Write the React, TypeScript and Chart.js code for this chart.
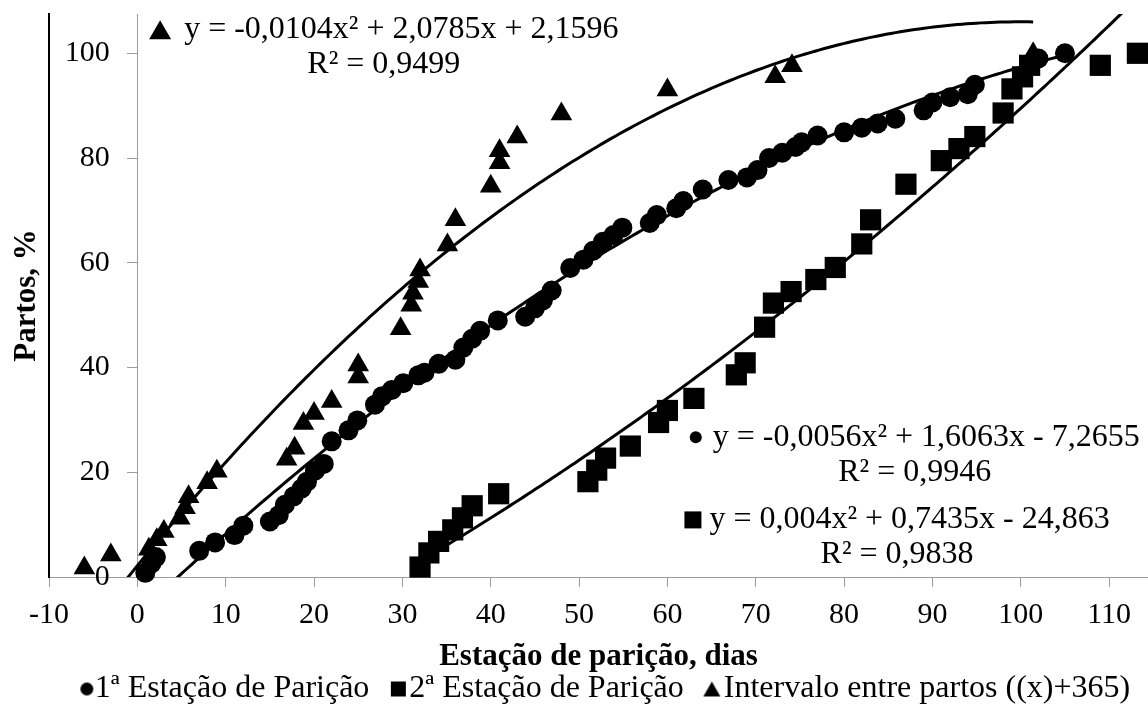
import React, { useEffect, useRef } from "react";
import { Chart, registerables } from "chart.js";

Chart.register(...registerables);

const FONT = "'Liberation Serif', 'Times New Roman', serif";
const GRAY = "#9d9d9d";

// 1ª Estação de Parição (circles)
const circleX = [0.9, 1.6, 2.1, 7, 8.8, 11, 12, 15, 16, 16.7, 17.7, 18.6, 19.2, 20.1, 21.1, 22, 23.9, 24.9, 26.9, 27.7, 28.8, 30.1, 31.8, 32.5, 34.1, 36, 36.9, 37.9, 38.8, 40.8, 43.9, 45, 45.9, 46.9, 49, 50.5, 51.6, 52.7, 53.9, 54.9, 58, 58.8, 61, 61.8, 64, 66.9, 69, 70.2, 71.5, 73, 74.5, 75.2, 77, 80, 82, 83.8, 85.8, 89, 90, 92, 94, 94.8, 102, 105];
const circleY = [0.8, 2.6, 3.8, 5, 6.6, 8, 9.8, 10.6, 11.8, 13.8, 15.4, 16.9, 18.2, 20.3, 21.6, 25.9, 28, 29.9, 32.9, 34.5, 35.7, 37, 38.5, 39, 40.7, 41.5, 43.8, 45.5, 47, 49, 49.7, 51.3, 52.8, 54.7, 59, 60.6, 62.3, 64, 65.3, 66.7, 67.6, 69.1, 70.4, 71.8, 74, 75.8, 76.3, 77.7, 80, 81, 82.1, 83, 84.3, 84.9, 85.8, 86.6, 87.5, 89.1, 90.6, 91.6, 92.2, 94, 99, 100];

// 2ª Estação de Parição (squares)
const squareX = [32, 33, 34.1, 35.7, 36.8, 37.9, 40.9, 51, 52, 53, 55.8, 59, 60, 63, 67.8, 68.8, 71, 72, 74, 76.8, 79, 82, 83, 87, 91, 93, 94.8, 98, 99, 100.2, 101, 109, 113.2];
const squareY = [1.9, 4.6, 6.8, 9, 11.3, 13.6, 15.9, 18.2, 20.4, 22.7, 25, 29.5, 31.8, 34.1, 38.6, 40.9, 47.7, 52.3, 54.5, 56.8, 59.1, 63.6, 68.2, 75, 79.5, 81.8, 84.1, 88.6, 93.2, 95.5, 97.7, 97.7, 100];

// Intervalo entre partos ((x)+365) (triangles)
const triangleX = [-6, -3, 1.3, 2.2, 3, 4.8, 5.4, 5.8, 7.9, 9, 16.9, 17.8, 18.8, 20, 22, 25, 25, 29.8, 31, 31.2, 31.8, 32, 35.1, 36, 40, 41, 41, 43, 48, 60, 72.2, 74.1, 101.4];
const triangleY = [1.7, 4.2, 5.3, 7.1, 8.7, 11.2, 13.2, 15.3, 18, 20.2, 22.5, 24.6, 29.3, 31.2, 33.5, 38.2, 40.5, 47.4, 51.9, 54.2, 56.4, 58.6, 63.4, 68.2, 74.6, 79.1, 81.4, 84, 88.4, 93, 95.5, 97.6, 99.9];

// Polynomial trend coefficients [a, b, c] for y = a x^2 + b x + c (from the chart's equations)
const circleTrend = [-0.0056, 1.6063, -7.2655];
const squareTrend = [0.004, 0.7435, -24.863];
const triangleTrend = [-0.0104, 2.0785, 2.1596];

const seriesLabels = ["1ª Estação de Parição", "2ª Estação de Parição", "Intervalo entre partos ((x)+365)"];
const equationTexts = ["y = -0,0056x² + 1,6063x - 7,2655", "y = 0,004x² + 0,7435x - 24,863", "y = -0,0104x² + 2,0785x + 2,1596"];
const r2Texts = ["R² = 0,9946", "R² = 0,9838", "R² = 0,9499"];

const xTicks = [-10, 0, 10, 20, 30, 40, 50, 60, 70, 80, 90, 100, 110];
const yTicks = [0, 20, 40, 60, 80, 100];

const xTitle = "Estação de parição, dias";
const yTitle = "Partos, %";

function toPoints(xs: number[], ys: number[]) {
  return xs.map((x, i) => ({ x, y: ys[i] }));
}

function trendPoints(coef: number[], xs: number[]) {
  const x0 = Math.min(...xs);
  const x1 = Math.max(...xs);
  const pts: { x: number; y: number }[] = [];
  const n = 200;
  for (let i = 0; i <= n; i++) {
    const x = x0 + ((x1 - x0) * i) / n;
    pts.push({ x, y: coef[0] * x * x + coef[1] * x + coef[2] });
  }
  return pts;
}

function drawShape(ctx: CanvasRenderingContext2D, shape: string, cx: number, cy: number, w: number, h: number) {
  ctx.beginPath();
  if (shape === "circle") {
    ctx.arc(cx, cy, w / 2, 0, Math.PI * 2);
  } else if (shape === "rect") {
    ctx.rect(cx - w / 2, cy - h / 2, w, h);
  } else {
    ctx.moveTo(cx, cy - h / 2);
    ctx.lineTo(cx + w / 2, cy + h / 2);
    ctx.lineTo(cx - w / 2, cy + h / 2);
    ctx.closePath();
  }
  ctx.fill();
}

function makeMarker(shape: string, w: number, h: number, offset: number): HTMLCanvasElement {
  const c = document.createElement("canvas");
  const W = Math.ceil(2 * offset + w + 2);
  const H = Math.ceil(h + 2);
  c.width = W;
  c.height = H;
  const ctx = c.getContext("2d")!;
  ctx.fillStyle = "#000";
  drawShape(ctx, shape, W / 2 + offset, H / 2, w, h);
  return c;
}

// label layout (data-unit anchors), separate from data
const labelLayout = [
  { shape: "circle", w: 12, h: 12, gap: 11, cx: 88.0, y1: 26.7, y2: 19.9 },
  { shape: "rect", w: 17, h: 17, gap: 8, cx: 86.0, y1: 10.9, y2: 4.2 },
  { shape: "triangle", w: 22, h: 19, gap: 13, cx: 27.9, y1: 104.5, y2: 97.8 },
];

const equationPlugin = {
  id: "equationLabels",
  afterDatasetsDraw(chart: any) {
    const { ctx, scales } = chart;
    const xs = scales.x;
    const ys = scales.y;
    ctx.save();
    ctx.fillStyle = "#000";
    ctx.font = `32px ${FONT}`;
    ctx.textBaseline = "middle";
    labelLayout.forEach((L, i) => {
      const cx = xs.getPixelForValue(L.cx);
      const cy1 = ys.getPixelForValue(L.y1);
      const cy2 = ys.getPixelForValue(L.y2);
      const tw = ctx.measureText(equationTexts[i]).width;
      const total = L.w + L.gap + tw;
      const left = cx - total / 2;
      drawShape(ctx, L.shape, left + L.w / 2, cy1, L.w, L.h);
      ctx.textAlign = "left";
      ctx.fillText(equationTexts[i], left + L.w + L.gap, cy1);
      ctx.textAlign = "center";
      ctx.fillText(r2Texts[i], cx, cy2);
    });
    ctx.restore();
  },
};

export default function App() {
  const ref = useRef<HTMLCanvasElement>(null);

  useEffect(() => {
    const canvas = ref.current;
    if (!canvas) return;
    Chart.defaults.font.family = FONT;
    const legendMarkers = [
      makeMarker("circle", 13, 13, 14),
      makeMarker("rect", 15, 15, 11),
      makeMarker("triangle", 17, 15, 10),
    ];

    const pointBase = {
      backgroundColor: "#000",
      borderColor: "#000",
      borderWidth: 0,
      clip: false as any,
      order: 1,
    };
    const lineBase = {
      showLine: true,
      pointRadius: 0,
      borderColor: "#000",
      backgroundColor: "#000",
      borderWidth: 3,
      fill: false,
      order: 2,
    };

    const chart = new Chart(canvas, {
      type: "scatter",
      data: {
        datasets: [
          { ...pointBase, label: seriesLabels[0], data: toPoints(circleX, circleY), pointStyle: "circle", pointRadius: 10 },
          { ...pointBase, label: seriesLabels[1], data: toPoints(squareX, squareY), pointStyle: "rect", pointRadius: 15 },
          { ...pointBase, label: seriesLabels[2], data: toPoints(triangleX, triangleY), pointStyle: "triangle", pointRadius: 12.5 },
          { ...lineBase, label: "trend1", data: trendPoints(circleTrend, circleX) },
          { ...lineBase, label: "trend2", data: trendPoints(squareTrend, squareX) },
          { ...lineBase, label: "trend3", data: trendPoints(triangleTrend, triangleX) },
        ] as any,
      },
      options: {
        animation: false,
        responsive: true,
        maintainAspectRatio: false,
        events: [],
        layout: { autoPadding: false, padding: { top: 14, left: 0, right: 0, bottom: 0 } },
        plugins: {
          tooltip: { enabled: false },
          legend: {
            display: true,
            position: "bottom",
            align: "center",
            fullSize: false,
            labels: {
              usePointStyle: true,
              boxWidth: 12,
              boxHeight: 12,
              padding: 12,
              color: "#000",
              font: { family: FONT, size: 32 },
              generateLabels: () =>
                seriesLabels.map((text, i) => ({
                  text,
                  fillStyle: "#000",
                  strokeStyle: "#000",
                  lineWidth: 0,
                  pointStyle: legendMarkers[i] as any,
                  hidden: false,
                  datasetIndex: i,
                  fontColor: "#000",
                })),
            },
          },
        },
        scales: {
          x: {
            type: "linear",
            position: "bottom",
            min: -10,
            max: 114.4,
            afterBuildTicks: (s: any) => {
              s.ticks = xTicks.map((v) => ({ value: v }));
            },
            afterFit: (s: any) => {
              s.paddingLeft = 0;
              s.paddingRight = 0;
            },
            ticks: {
              font: { family: FONT, size: 30 },
              color: "#000",
              padding: 10,
              maxRotation: 0,
              autoSkip: false,
              callback: (v: any) => String(v),
            },
            grid: { display: true, drawOnChartArea: false, drawTicks: true, tickLength: 10, color: GRAY, lineWidth: 1 },
            border: { display: true, color: GRAY, width: 1 },
            title: {
              display: true,
              text: xTitle,
              color: "#000",
              font: { family: FONT, size: 31, weight: "bold" },
              padding: { top: -4.6, bottom: -14.6 },
            },
          },
          y: {
            type: "linear",
            position: "left",
            min: 0,
            max: 107.5,
            afterFit: (s: any) => {
              s.width = 49;
              s.paddingTop = 0;
              s.paddingBottom = 0;
            },
            ticks: { display: false },
            grid: { display: false },
            border: { display: true, color: "#000", width: 2 },
            title: {
              display: true,
              text: yTitle,
              color: "#000",
              font: { family: FONT, size: 31, weight: "bold" },
              padding: { top: 8, bottom: 0 },
            },
          },
          y2: {
            type: "linear",
            position: { x: 0 } as any,
            min: 0,
            max: 107.5,
            afterBuildTicks: (s: any) => {
              s.ticks = yTicks.map((v) => ({ value: v }));
            },
            afterFit: (s: any) => {
              s.paddingTop = 0;
              s.paddingBottom = 0;
            },
            ticks: {
              font: { family: FONT, size: 30 },
              color: "#000",
              padding: 19,
              // trailing spaces keep the right-aligned labels clear of the tick marks
              callback: (v: any) => String(v) + "   \u2006",
            },
            grid: { display: true, drawOnChartArea: false, drawTicks: true, tickLength: 10, color: GRAY, lineWidth: 1 },
            border: { display: true, color: GRAY, width: 1 },
          },
        } as any,
      },
      plugins: [equationPlugin],
    });

    return () => chart.destroy();
  }, []);

  return (
    <div style={{ position: "absolute", left: 0, top: 0, width: 1148, height: 715 }}>
      <canvas ref={ref} />
    </div>
  );
}
